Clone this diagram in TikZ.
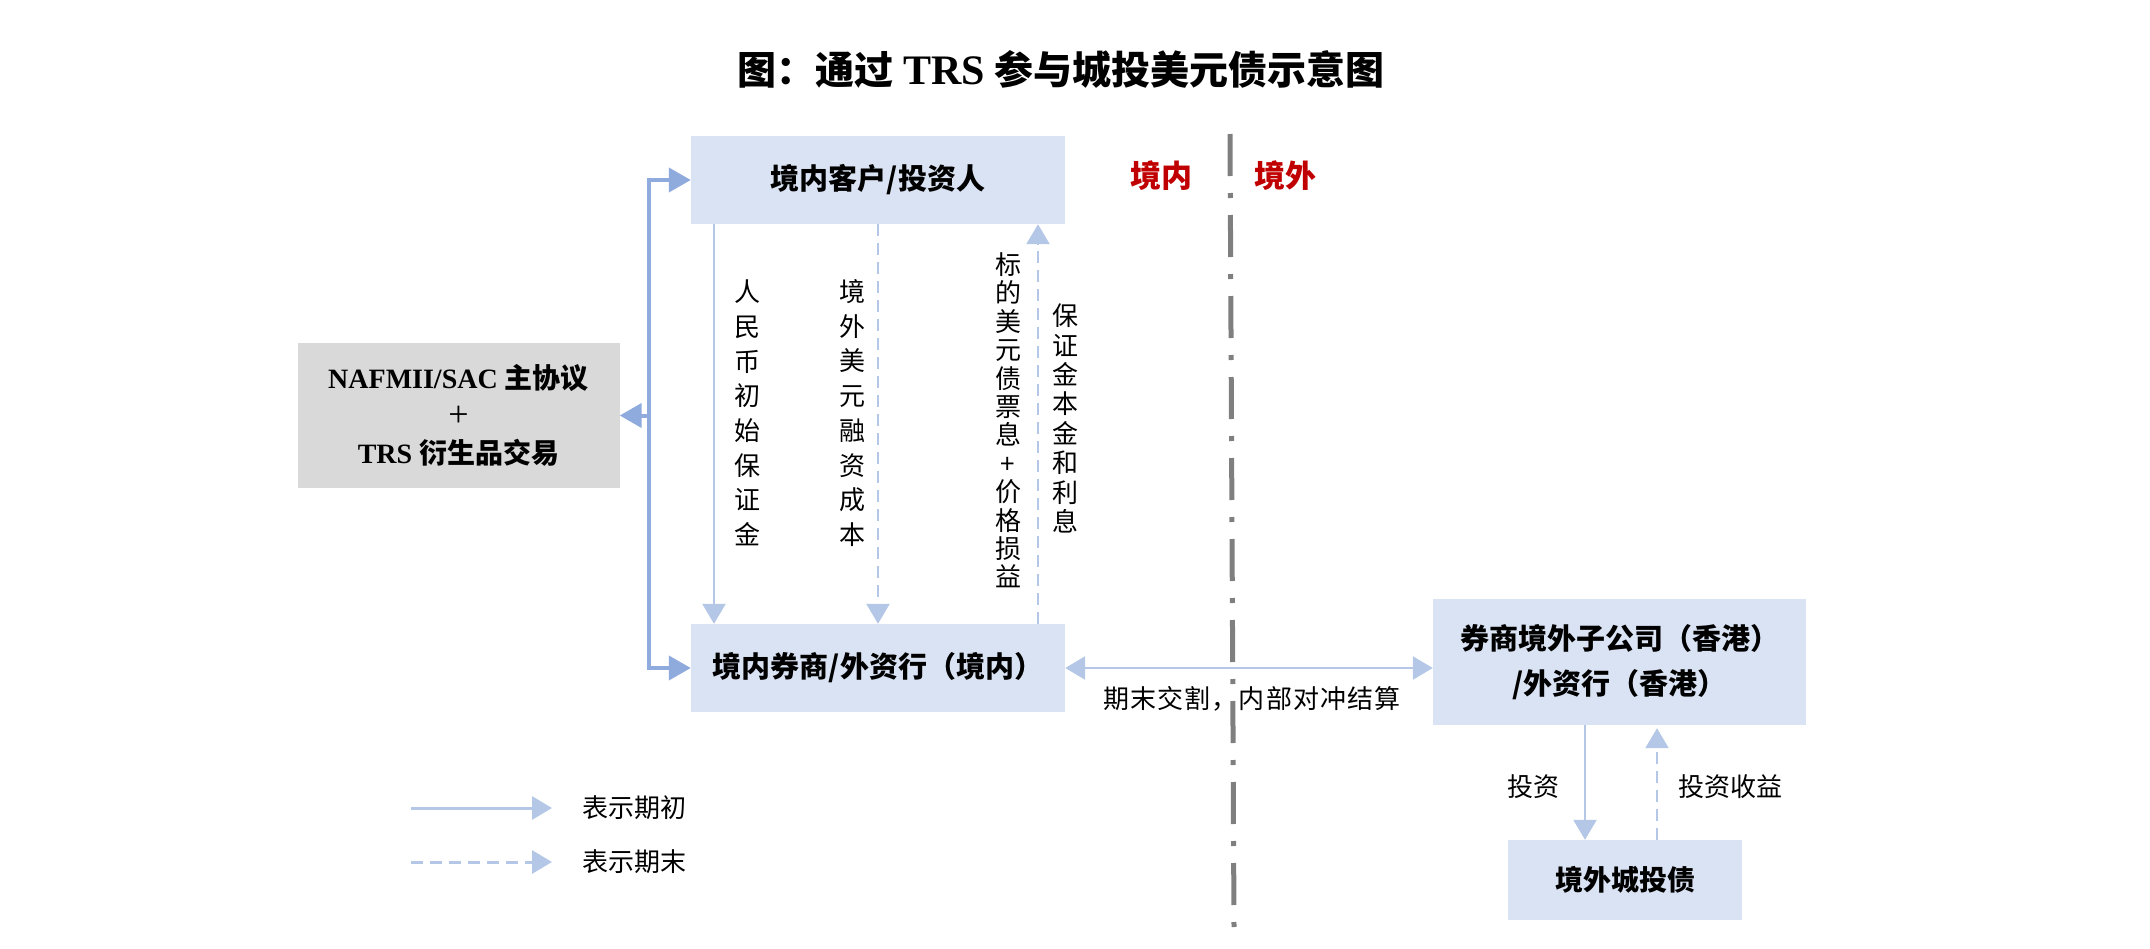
\documentclass[tikz,border=0pt]{standalone}
\usepackage{fontspec}
\setmainfont{Liberation Serif}
\newfontfamily\cjk{Noto Sans CJK SC}
\newfontfamily\cjkspaced[LetterSpace=4]{Noto Sans CJK SC}
\usetikzlibrary{arrows.meta}
\definecolor{boxblue}{HTML}{DAE3F3}
\definecolor{boxgray}{HTML}{D9D9D9}
\definecolor{arrlight}{HTML}{B4C7E7}
\definecolor{arrdark}{HTML}{8FAADC}
\definecolor{divgray}{HTML}{7F7F7F}
\definecolor{labred}{HTML}{C00000}
\tikzset{
  bluebox/.style={rectangle, fill=boxblue, inner sep=0pt, align=center, font=\cjk\bfseries\fontsize{29}{45}\selectfont},
  graybox/.style={rectangle, fill=boxgray, inner sep=0pt, align=center},
  thinarr/.style={draw=arrlight, line width=2.5pt, -{Triangle[length=20pt,width=23pt]}},
  dasharr/.style={thinarr, dash pattern=on 12pt off 7pt},
  bracket/.style={draw=arrdark, line width=4pt, -{Triangle[length=22pt,width=24pt]}},
  lab/.style={inner sep=0pt, font=\cjk\fontsize{26}{30}\selectfont},
  vlab/.style={inner sep=0pt, align=center, text width=27pt},
}
\begin{document}
\begin{tikzpicture}[x=1pt,y=-1pt]
\useasboundingbox (0,0) rectangle (2150,948);
% title
\node[inner sep=0pt, font=\bfseries\fontsize{39}{48}\selectfont] (title) at (1061,69) {{\cjk 图：通过} {\fontsize{42}{48}\selectfont TRS} {\cjk 参与城投美元债示意图}};
% boxes
\node[bluebox, minimum width=374pt, minimum height=88pt] (top) at (878,180) {境内客户/投资人};
\node[bluebox, minimum width=374pt, minimum height=88pt] (bot) at (878,668) {境内券商/外资行（境内）};
\node[graybox, minimum width=322pt, minimum height=145pt, font=\bfseries\fontsize{28}{37.5}\selectfont] (naf) at (458.5,415.5) {NAFMII/SAC {\cjk 主协议}\\{\mdseries\fontsize{36}{37.5}\selectfont +}\\TRS {\cjk 衍生品交易}};
\node[bluebox, minimum width=373pt, minimum height=126pt] (hk) at (1619.5,662) {券商境外子公司（香港）\\/外资行（香港）};
\node[bluebox, minimum width=234pt, minimum height=80pt, font=\cjk\bfseries\fontsize{28}{34}\selectfont] (cty) at (1625,880) {境外城投债};
% divider
\coordinate (dtop) at (1230,134);
\coordinate (dbot) at (1234,927);
\draw[divgray, line width=5pt, dash pattern=on 42pt off 17pt on 5pt off 17pt] (dtop) -- (dbot);
\node[inner sep=0pt, text=labred, font=\cjk\bfseries\fontsize{31}{36}\selectfont] (in) at (1161,176) {境内};
\node[inner sep=0pt, text=labred, font=\cjk\bfseries\fontsize{31}{36}\selectfont] (out) at (1285,176) {境外};
% left bracket
\coordinate (j) at (649,415.5);
\draw[bracket] (j) |- (top.west);
\draw[bracket] (j) |- (bot.west);
\draw[bracket] (j) -- (naf.east);
% vertical arrows between top and bot
\coordinate (xa) at (714,0);
\coordinate (xb) at (878,0);
\coordinate (xc) at (1038,0);
\draw[thinarr] (xa |- top.south) -- (xa |- bot.north);
\draw[dasharr] (xb |- top.south) -- (xb |- bot.north);
\draw[dasharr] (xc |- bot.north) -- (xc |- top.south);
\node[vlab, font=\cjk\fontsize{26}{34.7}\selectfont] (l1) at (747,413) {人\\民\\币\\初\\始\\保\\证\\金};
\node[vlab, font=\cjk\fontsize{26}{34.7}\selectfont] (l2) at (852,413) {境\\外\\美\\元\\融\\资\\成\\本};
\node[vlab, font=\cjk\fontsize{26}{28.4}\selectfont] (l3) at (1008,420.5) {标\\的\\美\\元\\债\\票\\息\\+\\价\\格\\损\\益};
\node[vlab, font=\cjk\fontsize{26}{29.4}\selectfont] (l4) at (1065,418.5) {保\\证\\金\\本\\金\\和\\利\\息};
% horizontal settlement arrow
\draw[thinarr, {Triangle[length=20pt,width=23pt]}-{Triangle[length=20pt,width=23pt]}] (bot.east) -- (bot.east -| hk.west);
\node[inner sep=0pt, font=\cjkspaced\fontsize{26}{30}\selectfont] (settle) at (1252,699) {期末交割，内部对冲结算};
% HK arrows
\coordinate (xi) at (1585,0);
\coordinate (xr) at (1657,0);
\draw[thinarr] (xi |- hk.south) -- (xi |- cty.north);
\draw[dasharr] (xr |- cty.north) -- ([yshift=-3pt]xr |- hk.south);
\node[lab] (inv) at (1533,787) {投资};
\node[lab] (ret) at (1730,787) {投资收益};
% legend
\coordinate (ls1) at (411,808);
\coordinate (le1) at (552,808);
\coordinate (ls2) at (411,862);
\coordinate (le2) at (552,862);
\draw[thinarr, line width=3pt] (ls1) -- (le1);
\draw[dasharr, line width=3pt] (ls2) -- (le2);
\node[lab] (leg1) at (634,808) {表示期初};
\node[lab] (leg2) at (634,862) {表示期末};
\end{tikzpicture}
\end{document}
